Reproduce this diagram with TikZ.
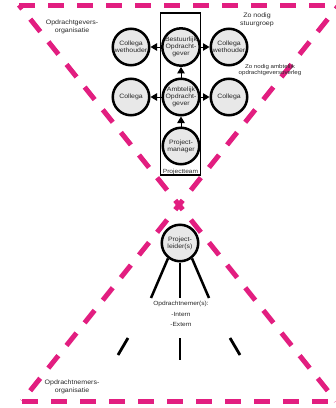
\documentclass[tikz,border=0pt]{standalone}
\usepackage{fontspec}
\setmainfont{Liberation Sans}
\newfontfamily\arialx[FakeStretch=1.1]{Liberation Sans}
\usetikzlibrary{arrows.meta}
\definecolor{mag}{RGB}{226,30,128}
\definecolor{cfill}{RGB}{232,232,232}
\definecolor{txt}{RGB}{40,40,40}
\begin{document}
\begin{tikzpicture}[x=1pt,y=-1pt,
  hg/.style={mag, line width=5pt, dash pattern=on 16pt off 13pt},
  hgc/.style={hg, dash phase=10pt},
  circ/.style={circle, draw=black, line width=2.5pt, fill=cfill, minimum size=36.5pt, inner sep=0pt,
    align=center, text=txt, font=\arialx\fontsize{6.3}{6.8}\selectfont},
  arr/.style={line width=1pt, -{Triangle[length=6.5pt,width=7.5pt]}},
  lbl/.style={align=center, text=txt, font=\arialx\fontsize{6.4}{8.5}\selectfont},
  slbl/.style={align=center, text=txt, font=\arialx\fontsize{5.6}{6.8}\selectfont},
  fan/.style={line width=2.5pt},
  tick/.style={line width=2.8pt}]
\useasboundingbox (0,0) rectangle (336,408);
\clip (0,0) rectangle (336,408);
% hourglass
\coordinate (apex) at (179,205);
\coordinate (tl) at (19,5);
\coordinate (tr) at (339,5);
\coordinate (bl) at (22,401);
\coordinate (br) at (336,401);
\draw[hg] (tl) -- (tr);
\draw[hg] (bl) -- (br);
\draw[hgc] (apex) -- (tl);
\draw[hgc] (apex) -- (tr);
\draw[hgc] (apex) -- (bl);
\draw[hgc] (apex) -- (br);
% project team box
\node[draw=black, line width=1.1pt, minimum width=40pt, minimum height=162pt, inner sep=0pt] (team) at (180.5,94) {};
\node[slbl, font=\arialx\fontsize{6}{7}\selectfont, anchor=south, inner sep=1pt] (teamlbl) at (team.south) {Projectteam};
% circles
\node[circ] (bo) at (181,47) {Bestuurlijk\\Opdracht-\\gever};
\node[circ] (cw1) at (131,47) {Collega\\wethouder};
\node[circ] (cw2) at (229,47) {Collega\\wethouder};
\node[circ] (ao) at (181,97) {Ambtelijk\\Opdracht-\\gever};
\node[circ] (c1) at (131,97) {Collega};
\node[circ] (c2) at (229,97) {Collega};
\node[circ] (pm) at (181,146) {Project-\\manager};
\draw[arr] (bo) -- (cw1);
\draw[arr] (bo) -- (cw2);
\draw[arr] (ao) -- (c1);
\draw[arr] (ao) -- (c2);
\draw[arr] (ao) -- (bo);
\draw[arr] (pm) -- (ao);
% labels
\node[lbl] (og) at (72,27) {Opdrachtgevers-\\organisatie};
\node[lbl] (sg) at (257,20) {Zo nodig\\stuurgroep};
\node[slbl] (aog) at (270,70) {Zo nodig ambtelijk\\opdrachtgeversoverleg};
\node[lbl] (on) at (72,387) {Opdrachtnemers-\\organisatie};
% project leader
\node[circ] (pl) at (180,243) {Project-\\leider(s)};
\coordinate (f1) at (151,298);
\coordinate (f2) at (180,298);
\coordinate (f3) at (209,298);
\draw[fan] (pl.-128) -- (f1);
\draw[fan] (pl.south) -- (f2);
\draw[fan] (pl.-52) -- (f3);
\node[lbl, font=\arialx\fontsize{6}{10.5}\selectfont] (onr) at (181,314) {Opdrachtnemer(s):\\-Intern\\-Extern};
% ticks
\coordinate (t1a) at (118,355); \coordinate (t1b) at (128,338);
\coordinate (t2a) at (180,338); \coordinate (t2b) at (180,360);
\coordinate (t3a) at (230,338); \coordinate (t3b) at (240,355);
\draw[tick] (t1a) -- (t1b);
\draw[tick] (t2a) -- (t2b);
\draw[tick] (t3a) -- (t3b);
\end{tikzpicture}
\end{document}
